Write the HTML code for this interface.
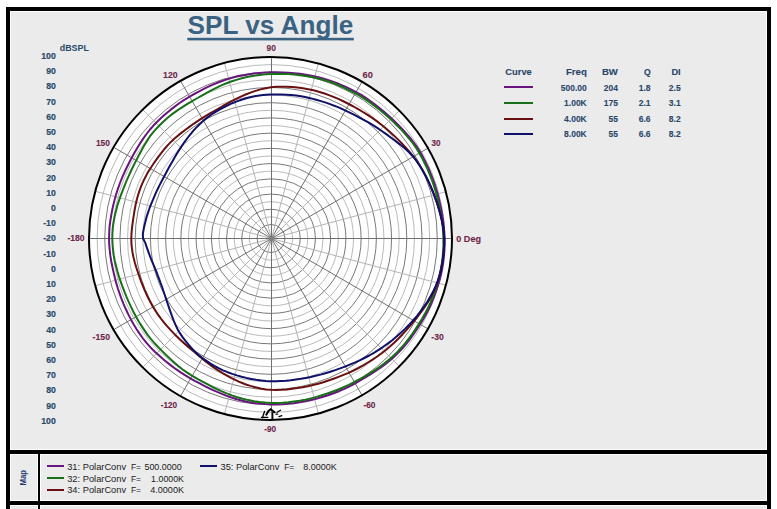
<!DOCTYPE html>
<html><head><meta charset="utf-8"><style>
html,body{margin:0;padding:0;background:#fff;overflow:hidden;}
svg{display:block;font-family:"Liberation Sans",sans-serif;}
</style></head><body>
<svg width="777" height="509" viewBox="0 0 777 509">
<rect x="0" y="0" width="777" height="509" fill="#ffffff"/>
<rect x="6" y="7" width="765" height="510" fill="#000"/>
<rect x="10" y="11" width="757" height="439" fill="#ffffff"/>
<rect x="11" y="12" width="755" height="437" fill="#ebebeb"/>
<rect x="10" y="454" width="28" height="47" fill="#ffffff"/>
<rect x="11" y="455" width="26" height="45" fill="#ebebeb"/>
<rect x="40" y="454" width="727" height="47" fill="#ffffff"/>
<rect x="41" y="455" width="725" height="45" fill="#ebebeb"/>
<rect x="10" y="505" width="28" height="10" fill="#ffffff"/>
<rect x="11" y="506" width="26" height="10" fill="#ebebeb"/>
<rect x="40" y="505" width="727" height="10" fill="#ffffff"/>
<rect x="41" y="506" width="725" height="10" fill="#ebebeb"/>
<text transform="translate(187.60 34.35) scale(1.0427 1)" font-family="Liberation Sans" font-weight="bold" font-size="25.07" fill="#3a6383" xml:space="preserve">SPL vs Angle</text>
<rect x="187.3" y="37.8" width="166.5" height="2.6" fill="#3a6383"/>
<text transform="translate(59.80 51.12) scale(1.0860 1)" font-family="Liberation Sans" font-weight="bold" font-size="8.17" fill="#2a4a6c" xml:space="preserve">dBSPL</text>
<text transform="translate(41.25 59.03) scale(0.8800 1)" font-family="Liberation Sans" font-weight="bold" font-size="9.90" fill="#2a4a6c" stroke="#2a4a6c" stroke-width="0.20" xml:space="preserve">100</text>
<text transform="translate(46.13 74.23) scale(0.8800 1)" font-family="Liberation Sans" font-weight="bold" font-size="9.90" fill="#2a4a6c" stroke="#2a4a6c" stroke-width="0.20" xml:space="preserve">90</text>
<text transform="translate(46.13 89.43) scale(0.8800 1)" font-family="Liberation Sans" font-weight="bold" font-size="9.90" fill="#2a4a6c" stroke="#2a4a6c" stroke-width="0.20" xml:space="preserve">80</text>
<text transform="translate(46.13 104.63) scale(0.8800 1)" font-family="Liberation Sans" font-weight="bold" font-size="9.90" fill="#2a4a6c" stroke="#2a4a6c" stroke-width="0.20" xml:space="preserve">70</text>
<text transform="translate(46.13 119.83) scale(0.8800 1)" font-family="Liberation Sans" font-weight="bold" font-size="9.90" fill="#2a4a6c" stroke="#2a4a6c" stroke-width="0.20" xml:space="preserve">60</text>
<text transform="translate(46.13 135.03) scale(0.8800 1)" font-family="Liberation Sans" font-weight="bold" font-size="9.90" fill="#2a4a6c" stroke="#2a4a6c" stroke-width="0.20" xml:space="preserve">50</text>
<text transform="translate(46.13 150.23) scale(0.8800 1)" font-family="Liberation Sans" font-weight="bold" font-size="9.90" fill="#2a4a6c" stroke="#2a4a6c" stroke-width="0.20" xml:space="preserve">40</text>
<text transform="translate(46.13 165.43) scale(0.8800 1)" font-family="Liberation Sans" font-weight="bold" font-size="9.90" fill="#2a4a6c" stroke="#2a4a6c" stroke-width="0.20" xml:space="preserve">30</text>
<text transform="translate(46.13 180.63) scale(0.8800 1)" font-family="Liberation Sans" font-weight="bold" font-size="9.90" fill="#2a4a6c" stroke="#2a4a6c" stroke-width="0.20" xml:space="preserve">20</text>
<text transform="translate(46.13 195.83) scale(0.8800 1)" font-family="Liberation Sans" font-weight="bold" font-size="9.90" fill="#2a4a6c" stroke="#2a4a6c" stroke-width="0.20" xml:space="preserve">10</text>
<text transform="translate(50.96 211.03) scale(0.8800 1)" font-family="Liberation Sans" font-weight="bold" font-size="9.90" fill="#2a4a6c" stroke="#2a4a6c" stroke-width="0.20" xml:space="preserve">0</text>
<text transform="translate(43.21 226.23) scale(0.8800 1)" font-family="Liberation Sans" font-weight="bold" font-size="9.90" fill="#2a4a6c" stroke="#2a4a6c" stroke-width="0.20" xml:space="preserve">-10</text>
<text transform="translate(43.21 241.43) scale(0.8800 1)" font-family="Liberation Sans" font-weight="bold" font-size="9.90" fill="#2a4a6c" stroke="#2a4a6c" stroke-width="0.20" xml:space="preserve">-20</text>
<text transform="translate(43.21 256.63) scale(0.8800 1)" font-family="Liberation Sans" font-weight="bold" font-size="9.90" fill="#2a4a6c" stroke="#2a4a6c" stroke-width="0.20" xml:space="preserve">-10</text>
<text transform="translate(50.96 271.83) scale(0.8800 1)" font-family="Liberation Sans" font-weight="bold" font-size="9.90" fill="#2a4a6c" stroke="#2a4a6c" stroke-width="0.20" xml:space="preserve">0</text>
<text transform="translate(46.13 287.03) scale(0.8800 1)" font-family="Liberation Sans" font-weight="bold" font-size="9.90" fill="#2a4a6c" stroke="#2a4a6c" stroke-width="0.20" xml:space="preserve">10</text>
<text transform="translate(46.13 302.23) scale(0.8800 1)" font-family="Liberation Sans" font-weight="bold" font-size="9.90" fill="#2a4a6c" stroke="#2a4a6c" stroke-width="0.20" xml:space="preserve">20</text>
<text transform="translate(46.13 317.43) scale(0.8800 1)" font-family="Liberation Sans" font-weight="bold" font-size="9.90" fill="#2a4a6c" stroke="#2a4a6c" stroke-width="0.20" xml:space="preserve">30</text>
<text transform="translate(46.13 332.63) scale(0.8800 1)" font-family="Liberation Sans" font-weight="bold" font-size="9.90" fill="#2a4a6c" stroke="#2a4a6c" stroke-width="0.20" xml:space="preserve">40</text>
<text transform="translate(46.13 347.83) scale(0.8800 1)" font-family="Liberation Sans" font-weight="bold" font-size="9.90" fill="#2a4a6c" stroke="#2a4a6c" stroke-width="0.20" xml:space="preserve">50</text>
<text transform="translate(46.13 363.03) scale(0.8800 1)" font-family="Liberation Sans" font-weight="bold" font-size="9.90" fill="#2a4a6c" stroke="#2a4a6c" stroke-width="0.20" xml:space="preserve">60</text>
<text transform="translate(46.13 378.23) scale(0.8800 1)" font-family="Liberation Sans" font-weight="bold" font-size="9.90" fill="#2a4a6c" stroke="#2a4a6c" stroke-width="0.20" xml:space="preserve">70</text>
<text transform="translate(46.13 393.43) scale(0.8800 1)" font-family="Liberation Sans" font-weight="bold" font-size="9.90" fill="#2a4a6c" stroke="#2a4a6c" stroke-width="0.20" xml:space="preserve">80</text>
<text transform="translate(46.13 408.63) scale(0.8800 1)" font-family="Liberation Sans" font-weight="bold" font-size="9.90" fill="#2a4a6c" stroke="#2a4a6c" stroke-width="0.20" xml:space="preserve">90</text>
<text transform="translate(41.25 423.83) scale(0.8800 1)" font-family="Liberation Sans" font-weight="bold" font-size="9.90" fill="#2a4a6c" stroke="#2a4a6c" stroke-width="0.20" xml:space="preserve">100</text>
<circle cx="270.5" cy="238.5" r="181.5" fill="#ffffff"/>
<circle cx="271.00" cy="238.50" r="14.00" fill="none" stroke="#787878" stroke-width="1"/>
<circle cx="271.00" cy="238.50" r="21.61" fill="none" stroke="#bababa" stroke-width="1"/>
<circle cx="271.00" cy="238.50" r="29.23" fill="none" stroke="#787878" stroke-width="1"/>
<circle cx="271.00" cy="238.50" r="36.84" fill="none" stroke="#bababa" stroke-width="1"/>
<circle cx="271.00" cy="238.50" r="44.45" fill="none" stroke="#787878" stroke-width="1"/>
<circle cx="271.00" cy="238.50" r="52.07" fill="none" stroke="#bababa" stroke-width="1"/>
<circle cx="271.00" cy="238.50" r="59.68" fill="none" stroke="#787878" stroke-width="1"/>
<circle cx="271.00" cy="238.50" r="67.30" fill="none" stroke="#bababa" stroke-width="1"/>
<circle cx="271.00" cy="238.50" r="74.91" fill="none" stroke="#787878" stroke-width="1"/>
<circle cx="271.00" cy="238.50" r="82.52" fill="none" stroke="#bababa" stroke-width="1"/>
<circle cx="271.00" cy="238.50" r="90.14" fill="none" stroke="#787878" stroke-width="1"/>
<circle cx="271.00" cy="238.50" r="97.75" fill="none" stroke="#bababa" stroke-width="1"/>
<circle cx="271.00" cy="238.50" r="105.37" fill="none" stroke="#787878" stroke-width="1"/>
<circle cx="271.00" cy="238.50" r="112.98" fill="none" stroke="#bababa" stroke-width="1"/>
<circle cx="271.00" cy="238.50" r="120.59" fill="none" stroke="#787878" stroke-width="1"/>
<circle cx="271.00" cy="238.50" r="128.21" fill="none" stroke="#bababa" stroke-width="1"/>
<circle cx="271.00" cy="238.50" r="135.82" fill="none" stroke="#787878" stroke-width="1"/>
<circle cx="271.00" cy="238.50" r="143.44" fill="none" stroke="#bababa" stroke-width="1"/>
<circle cx="271.00" cy="238.50" r="151.05" fill="none" stroke="#787878" stroke-width="1"/>
<circle cx="271.00" cy="238.50" r="158.66" fill="none" stroke="#bababa" stroke-width="1"/>
<circle cx="271.00" cy="238.50" r="166.28" fill="none" stroke="#787878" stroke-width="1"/>
<circle cx="271.00" cy="238.50" r="173.89" fill="none" stroke="#bababa" stroke-width="1"/>
<line x1="271.50" y1="238.50" x2="446.82" y2="191.52" stroke="#b4b4b4" stroke-width="1"/>
<line x1="271.50" y1="238.50" x2="399.84" y2="110.16" stroke="#b4b4b4" stroke-width="1"/>
<line x1="271.50" y1="238.50" x2="318.48" y2="63.18" stroke="#b4b4b4" stroke-width="1"/>
<line x1="271.50" y1="238.50" x2="224.52" y2="63.18" stroke="#b4b4b4" stroke-width="1"/>
<line x1="271.50" y1="238.50" x2="143.16" y2="110.16" stroke="#b4b4b4" stroke-width="1"/>
<line x1="271.50" y1="238.50" x2="96.18" y2="191.52" stroke="#b4b4b4" stroke-width="1"/>
<line x1="271.50" y1="238.50" x2="96.18" y2="285.48" stroke="#b4b4b4" stroke-width="1"/>
<line x1="271.50" y1="238.50" x2="143.16" y2="366.84" stroke="#b4b4b4" stroke-width="1"/>
<line x1="271.50" y1="238.50" x2="224.52" y2="413.82" stroke="#b4b4b4" stroke-width="1"/>
<line x1="271.50" y1="238.50" x2="318.48" y2="413.82" stroke="#b4b4b4" stroke-width="1"/>
<line x1="271.50" y1="238.50" x2="399.84" y2="366.84" stroke="#b4b4b4" stroke-width="1"/>
<line x1="271.50" y1="238.50" x2="446.82" y2="285.48" stroke="#b4b4b4" stroke-width="1"/>
<line x1="271.50" y1="238.50" x2="453.00" y2="238.50" stroke="#707070" stroke-width="1" shape-rendering="crispEdges"/>
<line x1="271.50" y1="238.50" x2="428.68" y2="147.75" stroke="#707070" stroke-width="1"/>
<line x1="271.50" y1="238.50" x2="362.25" y2="81.32" stroke="#707070" stroke-width="1"/>
<line x1="271.50" y1="238.50" x2="271.50" y2="57.00" stroke="#707070" stroke-width="1" shape-rendering="crispEdges"/>
<line x1="271.50" y1="238.50" x2="180.75" y2="81.32" stroke="#707070" stroke-width="1"/>
<line x1="271.50" y1="238.50" x2="114.32" y2="147.75" stroke="#707070" stroke-width="1"/>
<line x1="271.50" y1="238.50" x2="90.00" y2="238.50" stroke="#707070" stroke-width="1" shape-rendering="crispEdges"/>
<line x1="271.50" y1="238.50" x2="114.32" y2="329.25" stroke="#707070" stroke-width="1"/>
<line x1="271.50" y1="238.50" x2="180.75" y2="395.68" stroke="#707070" stroke-width="1"/>
<line x1="271.50" y1="238.50" x2="271.50" y2="420.00" stroke="#707070" stroke-width="1" shape-rendering="crispEdges"/>
<line x1="271.50" y1="238.50" x2="362.25" y2="395.68" stroke="#707070" stroke-width="1"/>
<line x1="271.50" y1="238.50" x2="428.68" y2="329.25" stroke="#707070" stroke-width="1"/>
<circle cx="271.5" cy="238.5" r="2.5" fill="#808080"/>
<circle cx="270.5" cy="238.5" r="181.5" fill="none" stroke="#000" stroke-width="2"/>
<path d="M444.6 238.5 L444.3 232.4 L443.8 226.4 L443.1 220.4 L442.2 214.4 L441.1 208.5 L439.8 202.6 L438.4 196.8 L436.8 191.0 L435.0 185.2 L433.0 179.5 L430.8 173.9 L428.5 168.4 L425.9 163.0 L423.2 157.6 L420.3 152.3 L417.1 147.2 L413.6 142.3 L409.9 137.6 L405.9 133.1 L401.9 128.7 L397.7 124.4 L393.5 120.2 L389.1 116.2 L384.6 112.3 L380.1 108.5 L375.4 104.8 L370.7 101.3 L365.8 97.9 L360.8 94.7 L355.7 91.8 L350.4 89.2 L345.1 86.6 L339.7 84.3 L334.2 82.1 L328.6 80.2 L323.0 78.5 L317.3 77.0 L311.6 75.7 L305.8 74.7 L300.0 73.8 L294.2 73.2 L288.4 72.7 L282.6 72.4 L276.8 72.2 L271.0 72.3 L265.2 72.5 L259.4 72.9 L253.7 73.5 L247.9 74.4 L242.2 75.4 L236.6 76.6 L231.0 78.1 L225.5 79.8 L220.1 81.7 L214.7 83.9 L209.5 86.2 L204.3 88.7 L199.2 91.3 L194.2 94.0 L189.2 96.8 L184.3 99.8 L179.6 103.0 L175.0 106.4 L170.5 109.9 L166.1 113.5 L161.8 117.2 L157.7 121.2 L153.7 125.3 L150.0 129.5 L146.5 134.0 L143.2 138.6 L140.1 143.4 L137.1 148.2 L134.3 153.1 L131.6 158.0 L129.0 163.0 L126.5 168.0 L124.1 173.1 L121.9 178.2 L119.8 183.5 L117.9 188.8 L116.2 194.1 L114.7 199.5 L113.3 205.0 L112.1 210.5 L111.1 216.0 L110.2 221.6 L109.5 227.2 L109.2 232.8 L109.1 238.5 L109.2 244.1 L109.7 249.8 L110.3 255.4 L111.2 261.0 L112.3 266.5 L113.5 272.0 L114.8 277.4 L116.2 282.9 L117.8 288.3 L119.6 293.6 L121.5 298.9 L123.6 304.1 L125.9 309.3 L128.3 314.4 L130.9 319.4 L133.6 324.3 L136.6 329.2 L139.7 333.9 L143.0 338.5 L146.5 342.9 L150.3 347.2 L154.3 351.2 L158.5 355.0 L162.7 358.7 L167.1 362.4 L171.5 365.9 L176.0 369.2 L180.7 372.4 L185.4 375.4 L190.3 378.3 L195.2 381.1 L200.2 383.7 L205.2 386.3 L210.3 388.8 L215.4 391.2 L220.7 393.4 L226.0 395.6 L231.4 397.5 L236.8 399.2 L242.4 400.7 L248.0 401.9 L253.7 402.9 L259.5 403.6 L265.2 404.1 L271.0 404.4 L276.8 404.4 L282.6 404.2 L288.4 403.8 L294.1 403.2 L299.9 402.3 L305.6 401.3 L311.3 400.1 L316.9 398.6 L322.5 397.0 L328.1 395.3 L333.6 393.3 L339.0 391.2 L344.4 388.9 L349.6 386.3 L354.8 383.6 L359.8 380.7 L364.9 377.7 L369.9 374.7 L374.9 371.5 L379.8 368.2 L384.6 364.7 L389.3 361.0 L393.8 357.1 L398.1 352.9 L402.2 348.5 L406.0 344.0 L409.8 339.3 L413.3 334.5 L416.7 329.5 L420.0 324.5 L423.1 319.4 L426.1 314.2 L428.9 308.8 L431.4 303.3 L433.7 297.7 L435.8 292.0 L437.7 286.3 L439.5 280.5 L441.0 274.6 L442.2 268.7 L443.2 262.7 L443.9 256.7 L444.4 250.6 L444.6 244.6 Z" fill="none" stroke="#6a1480" stroke-width="2.0" stroke-linejoin="round"/>
<path d="M443.4 238.5 L443.1 232.5 L442.7 226.5 L441.9 220.5 L441.0 214.6 L439.9 208.7 L438.7 202.9 L437.2 197.1 L435.6 191.3 L433.9 185.6 L431.9 179.9 L429.7 174.4 L427.4 168.9 L424.8 163.5 L422.1 158.1 L419.2 152.9 L416.1 147.8 L412.6 143.0 L408.9 138.3 L405.0 133.8 L401.0 129.4 L396.8 125.2 L392.6 121.1 L388.3 117.1 L383.8 113.2 L379.3 109.5 L374.6 105.9 L369.9 102.4 L365.0 99.1 L360.0 96.0 L354.9 93.1 L349.7 90.5 L344.5 87.9 L339.1 85.5 L333.7 83.3 L328.2 81.4 L322.6 79.7 L317.0 78.2 L311.3 77.0 L305.5 76.0 L299.8 75.2 L294.0 74.6 L288.3 74.1 L282.5 73.9 L276.8 73.8 L271.0 73.9 L265.3 74.3 L259.6 74.9 L253.9 75.7 L248.3 76.8 L242.7 78.0 L237.2 79.6 L231.8 81.3 L226.5 83.3 L221.3 85.4 L216.2 87.8 L211.2 90.4 L206.2 93.1 L201.4 95.8 L196.6 98.5 L191.8 101.3 L187.0 104.1 L182.4 107.1 L177.7 110.1 L173.2 113.4 L168.8 116.7 L164.6 120.4 L160.6 124.2 L156.8 128.2 L153.1 132.3 L149.7 136.7 L146.7 141.4 L143.9 146.1 L141.2 151.0 L138.6 155.8 L136.1 160.6 L133.6 165.5 L131.3 170.3 L129.0 175.3 L126.8 180.2 L124.7 185.3 L122.7 190.3 L120.8 195.4 L119.0 200.6 L117.3 205.8 L115.9 211.2 L114.6 216.5 L113.6 222.0 L112.8 227.4 L112.4 233.0 L112.3 238.5 L112.5 244.0 L113.0 249.6 L113.7 255.0 L114.7 260.5 L116.0 265.8 L117.4 271.2 L118.9 276.4 L120.7 281.6 L122.5 286.7 L124.5 291.8 L126.5 296.9 L128.7 301.9 L131.0 306.8 L133.4 311.7 L135.9 316.5 L138.6 321.2 L141.5 325.9 L144.5 330.4 L147.6 334.9 L151.0 339.2 L154.6 343.3 L158.4 347.3 L162.2 351.1 L166.1 355.0 L170.1 358.8 L174.2 362.5 L178.3 366.0 L182.7 369.5 L187.2 372.6 L191.9 375.6 L196.6 378.4 L201.5 381.1 L206.3 383.7 L211.3 386.3 L216.3 388.8 L221.4 391.2 L226.6 393.4 L231.9 395.4 L237.3 397.2 L242.7 398.8 L248.3 400.1 L253.9 401.2 L259.6 402.0 L265.3 402.6 L271.0 402.9 L276.7 402.9 L282.5 402.7 L288.2 402.3 L293.9 401.6 L299.6 400.8 L305.3 399.7 L310.9 398.4 L316.4 396.9 L321.9 395.2 L327.4 393.4 L332.8 391.5 L338.2 389.5 L343.5 387.2 L348.8 384.8 L354.0 382.2 L359.1 379.5 L364.2 376.6 L369.2 373.7 L374.2 370.6 L379.1 367.3 L383.8 363.8 L388.5 360.1 L392.9 356.2 L397.2 352.1 L401.2 347.8 L405.1 343.3 L408.8 338.6 L412.3 333.8 L415.7 328.9 L418.9 323.9 L422.1 318.8 L425.0 313.6 L427.8 308.3 L430.3 302.8 L432.5 297.3 L434.7 291.7 L436.6 286.0 L438.3 280.2 L439.8 274.4 L441.0 268.5 L442.0 262.5 L442.7 256.5 L443.2 250.5 L443.4 244.5 Z" fill="none" stroke="#187018" stroke-width="2.0" stroke-linejoin="round"/>
<path d="M444.2 238.5 L443.9 232.5 L443.1 226.5 L441.9 220.5 L440.4 214.7 L438.8 208.9 L437.1 203.2 L435.1 197.6 L433.0 192.0 L430.7 186.6 L428.3 181.2 L425.7 176.0 L423.0 170.8 L420.0 165.8 L416.8 161.0 L413.3 156.4 L409.6 151.9 L405.8 147.6 L401.9 143.4 L397.9 139.4 L393.8 135.4 L389.7 131.7 L385.4 128.0 L381.1 124.5 L376.7 121.1 L372.2 117.9 L367.6 114.9 L362.9 112.0 L358.2 109.2 L353.5 106.5 L348.7 104.0 L343.8 101.5 L338.9 99.2 L334.0 97.1 L328.9 95.1 L323.8 93.3 L318.7 91.7 L313.5 90.3 L308.2 89.2 L302.9 88.3 L297.6 87.6 L292.3 87.1 L286.9 86.8 L281.6 86.7 L276.3 86.8 L271.0 87.3 L265.8 88.2 L260.6 89.4 L255.5 90.9 L250.5 92.6 L245.6 94.5 L240.8 96.6 L236.2 98.8 L231.6 101.1 L227.2 103.6 L222.8 106.0 L218.5 108.5 L214.2 111.0 L210.0 113.4 L205.8 115.9 L201.7 118.4 L197.6 121.1 L193.6 123.8 L189.7 126.6 L185.8 129.5 L182.0 132.4 L178.2 135.4 L174.5 138.6 L170.9 141.9 L167.6 145.4 L164.4 149.0 L161.4 152.9 L158.5 156.7 L155.6 160.7 L152.8 164.7 L150.2 168.7 L147.6 172.9 L145.3 177.2 L143.1 181.6 L141.2 186.1 L139.5 190.6 L138.0 195.3 L136.7 200.0 L135.6 204.7 L134.7 209.5 L133.9 214.3 L133.2 219.1 L132.5 223.9 L131.9 228.8 L131.5 233.6 L131.3 238.5 L131.4 243.4 L131.9 248.2 L132.6 253.0 L133.6 257.8 L134.8 262.5 L136.2 267.2 L137.7 271.7 L139.3 276.3 L140.9 280.8 L142.6 285.2 L144.4 289.6 L146.4 294.0 L148.4 298.3 L150.6 302.5 L152.9 306.7 L155.4 310.8 L158.0 314.7 L160.8 318.5 L163.8 322.3 L166.8 325.9 L170.0 329.4 L173.3 332.9 L176.6 336.2 L180.0 339.5 L183.5 342.7 L187.1 345.9 L190.7 349.0 L194.4 352.1 L198.1 355.2 L201.8 358.3 L205.6 361.4 L209.6 364.5 L213.6 367.4 L217.8 370.2 L222.1 372.9 L226.5 375.4 L231.0 377.9 L235.7 380.1 L240.4 382.3 L245.3 384.2 L250.3 385.9 L255.4 387.3 L260.5 388.5 L265.7 389.4 L271.0 389.8 L276.3 389.9 L281.6 389.8 L286.9 389.4 L292.1 388.8 L297.4 388.1 L302.6 387.2 L307.8 386.2 L313.0 385.0 L318.2 383.7 L323.3 382.2 L328.4 380.5 L333.5 378.8 L338.5 376.9 L343.5 374.9 L348.6 372.8 L353.5 370.5 L358.4 368.0 L363.2 365.4 L367.9 362.5 L372.6 359.6 L377.2 356.5 L381.7 353.2 L386.2 349.7 L390.5 346.1 L394.7 342.3 L398.8 338.3 L402.7 334.2 L406.6 329.9 L410.3 325.6 L414.0 321.1 L417.7 316.5 L421.2 311.8 L424.7 306.9 L428.0 301.9 L431.0 296.7 L433.8 291.4 L436.2 285.9 L438.3 280.2 L440.0 274.4 L441.3 268.5 L442.4 262.6 L443.2 256.6 L443.8 250.6 L444.2 244.5 Z" fill="none" stroke="#6a1010" stroke-width="2.0" stroke-linejoin="round"/>
<path d="M444.2 238.5 L443.9 232.5 L443.1 226.5 L441.9 220.5 L440.5 214.7 L438.9 208.9 L437.1 203.2 L435.1 197.6 L433.0 192.0 L430.8 186.6 L428.3 181.2 L425.7 176.0 L422.9 170.9 L419.9 165.9 L416.6 161.1 L413.0 156.5 L409.0 152.3 L404.7 148.3 L400.2 144.6 L395.7 141.1 L391.1 137.7 L386.6 134.4 L382.1 131.2 L377.6 128.1 L373.0 125.2 L368.4 122.4 L363.7 119.8 L359.0 117.3 L354.4 114.9 L349.7 112.6 L345.0 110.4 L340.3 108.2 L335.5 106.2 L330.7 104.4 L325.9 102.6 L321.0 101.1 L316.1 99.7 L311.2 98.4 L306.2 97.3 L301.2 96.3 L296.2 95.6 L291.2 95.1 L286.1 94.7 L281.1 94.5 L276.0 94.4 L271.0 94.5 L266.0 94.8 L261.0 95.3 L256.0 96.0 L251.1 97.0 L246.3 98.2 L241.5 99.7 L236.8 101.4 L232.2 103.2 L227.7 105.3 L223.3 107.5 L219.0 109.8 L214.8 112.3 L210.8 115.0 L206.9 117.9 L203.1 120.9 L199.6 124.2 L196.2 127.6 L193.0 131.2 L190.0 134.8 L187.1 138.5 L184.3 142.3 L181.7 146.1 L179.2 149.9 L176.8 153.7 L174.6 157.6 L172.4 161.4 L170.2 165.3 L168.1 169.1 L166.0 172.9 L164.0 176.7 L162.0 180.5 L160.0 184.4 L158.1 188.2 L156.2 192.1 L154.5 196.1 L152.8 200.1 L151.1 204.1 L149.5 208.2 L148.1 212.4 L146.7 216.6 L145.6 220.9 L144.5 225.2 L143.6 229.6 L142.8 234.0 L143.1 238.5 L145.3 242.9 L146.7 247.2 L148.2 251.4 L149.7 255.5 L151.3 259.6 L153.0 263.6 L154.6 267.5 L156.2 271.4 L157.7 275.3 L159.2 279.2 L160.6 283.1 L162.1 287.0 L163.4 291.0 L164.8 295.0 L166.1 299.1 L167.5 303.2 L168.9 307.4 L170.4 311.6 L171.9 315.9 L173.6 320.3 L175.4 324.6 L177.4 328.9 L179.8 332.9 L182.4 336.9 L185.3 340.7 L188.3 344.4 L191.4 348.0 L194.8 351.5 L198.4 354.7 L202.1 357.8 L206.1 360.6 L210.1 363.3 L214.3 365.8 L218.6 368.1 L223.0 370.3 L227.6 372.2 L232.2 373.9 L236.9 375.4 L241.6 376.7 L246.4 377.9 L251.3 378.9 L256.2 379.8 L261.1 380.4 L266.0 380.9 L271.0 381.2 L276.0 381.2 L281.0 381.0 L285.9 380.7 L290.9 380.2 L295.9 379.5 L300.8 378.8 L305.8 377.9 L310.7 377.0 L315.6 375.8 L320.5 374.6 L325.4 373.2 L330.3 371.7 L335.2 370.1 L340.1 368.4 L344.9 366.6 L349.8 364.6 L354.7 362.6 L359.6 360.4 L364.4 358.0 L369.2 355.5 L373.9 352.8 L378.6 349.9 L383.2 346.8 L387.7 343.6 L392.2 340.2 L396.6 336.6 L400.9 332.8 L405.0 328.9 L409.1 324.8 L413.0 320.5 L416.9 316.1 L420.5 311.4 L424.0 306.6 L427.3 301.7 L430.4 296.5 L433.3 291.2 L435.8 285.8 L438.0 280.1 L439.8 274.4 L441.3 268.5 L442.4 262.6 L443.2 256.6 L443.8 250.6 L444.2 244.5 Z" fill="none" stroke="#10106a" stroke-width="2.0" stroke-linejoin="round"/>
<g fill="none" stroke="#000" stroke-width="1.3" stroke-linecap="round"><path d="M262.4 417.7 L264.6 411.3"/><path d="M261.4 417.4 L267.8 417.4"/><path d="M266.3 414.7 L268.5 411 L270.7 409.3 L274.6 412.3" stroke-width="2"/><path d="M272.7 412.3 L272.7 418.7"/><path d="M277.1 412.3 L280.5 410.3"/><path d="M276.1 414.2 L277.6 414.2"/><path d="M279 416.7 L281.8 415.7"/></g>
<text transform="translate(266.60 50.50) scale(0.8748 1)" font-family="Liberation Sans" font-weight="bold" font-size="9.58" fill="#6e2448" stroke="#6e2448" stroke-width="0.10" xml:space="preserve">90</text>
<text transform="translate(163.10 77.61) scale(0.9328 1)" font-family="Liberation Sans" font-weight="bold" font-size="9.44" fill="#6e2448" stroke="#6e2448" stroke-width="0.10" xml:space="preserve">120</text>
<text transform="translate(362.60 77.60) scale(0.9689 1)" font-family="Liberation Sans" font-weight="bold" font-size="9.58" fill="#6e2448" stroke="#6e2448" stroke-width="0.10" xml:space="preserve">60</text>
<text transform="translate(95.90 145.60) scale(0.8688 1)" font-family="Liberation Sans" font-weight="bold" font-size="9.72" fill="#6e2448" stroke="#6e2448" stroke-width="0.10" xml:space="preserve">150</text>
<text transform="translate(431.50 145.71) scale(0.8819 1)" font-family="Liberation Sans" font-weight="bold" font-size="9.30" fill="#6e2448" stroke="#6e2448" stroke-width="0.10" xml:space="preserve">30</text>
<text transform="translate(67.40 241.41) scale(0.9541 1)" font-family="Liberation Sans" font-weight="bold" font-size="9.01" fill="#6e2448" stroke="#6e2448" stroke-width="0.10" xml:space="preserve">-180</text>
<text transform="translate(92.60 339.61) scale(0.9219 1)" font-family="Liberation Sans" font-weight="bold" font-size="9.44" fill="#6e2448" stroke="#6e2448" stroke-width="0.10" xml:space="preserve">-150</text>
<text transform="translate(431.30 339.61) scale(0.9094 1)" font-family="Liberation Sans" font-weight="bold" font-size="9.44" fill="#6e2448" stroke="#6e2448" stroke-width="0.10" xml:space="preserve">-30</text>
<text transform="translate(160.70 407.90) scale(0.8614 1)" font-family="Liberation Sans" font-weight="bold" font-size="9.58" fill="#6e2448" stroke="#6e2448" stroke-width="0.10" xml:space="preserve">-120</text>
<text transform="translate(363.40 407.90) scale(0.8743 1)" font-family="Liberation Sans" font-weight="bold" font-size="9.58" fill="#6e2448" stroke="#6e2448" stroke-width="0.10" xml:space="preserve">-60</text>
<text transform="translate(264.30 432.41) scale(0.9585 1)" font-family="Liberation Sans" font-weight="bold" font-size="8.59" fill="#6e2448" stroke="#6e2448" stroke-width="0.10" xml:space="preserve">-90</text>
<text transform="translate(456.30 241.51) scale(0.9751 1)" font-family="Liberation Sans" font-weight="bold" font-size="9.30" fill="#6e2448" stroke="#6e2448" stroke-width="0.10" xml:space="preserve">0 Deg</text>
<text transform="translate(505.30 74.71) scale(1.0056 1)" font-family="Liberation Sans" font-weight="bold" font-size="9.30" fill="#28466a" stroke="#28466a" stroke-width="0.10" xml:space="preserve">Curve</text>
<text transform="translate(565.90 74.80) scale(1.0092 1)" font-family="Liberation Sans" font-weight="bold" font-size="9.57" fill="#28466a" stroke="#28466a" stroke-width="0.10" xml:space="preserve">Freq</text>
<text transform="translate(601.90 74.80) scale(1.0046 1)" font-family="Liberation Sans" font-weight="bold" font-size="9.57" fill="#28466a" stroke="#28466a" stroke-width="0.10" xml:space="preserve">BW</text>
<text transform="translate(643.90 74.71) scale(0.9240 1)" font-family="Liberation Sans" font-weight="bold" font-size="9.30" fill="#28466a" stroke="#28466a" stroke-width="0.10" xml:space="preserve">Q</text>
<text transform="translate(671.40 74.80) scale(0.9723 1)" font-family="Liberation Sans" font-weight="bold" font-size="9.57" fill="#28466a" stroke="#28466a" stroke-width="0.10" xml:space="preserve">DI</text>
<rect x="504" y="86.0" width="29" height="2" fill="#6a1480"/>
<text transform="translate(560.75 90.53) scale(0.8600 1)" font-family="Liberation Sans" font-weight="bold" font-size="9.90" fill="#28466a" stroke="#28466a" stroke-width="0.10" xml:space="preserve">500.00</text>
<text transform="translate(603.68 90.53) scale(0.8600 1)" font-family="Liberation Sans" font-weight="bold" font-size="9.90" fill="#28466a" stroke="#28466a" stroke-width="0.10" xml:space="preserve">204</text>
<text transform="translate(638.77 90.53) scale(0.8600 1)" font-family="Liberation Sans" font-weight="bold" font-size="9.90" fill="#28466a" stroke="#28466a" stroke-width="0.10" xml:space="preserve">1.8</text>
<text transform="translate(668.87 90.53) scale(0.8600 1)" font-family="Liberation Sans" font-weight="bold" font-size="9.90" fill="#28466a" stroke="#28466a" stroke-width="0.10" xml:space="preserve">2.5</text>
<rect x="504" y="102.0" width="29" height="2" fill="#187018"/>
<text transform="translate(564.07 106.13) scale(0.8600 1)" font-family="Liberation Sans" font-weight="bold" font-size="9.90" fill="#28466a" stroke="#28466a" stroke-width="0.10" xml:space="preserve">1.00K</text>
<text transform="translate(603.68 106.13) scale(0.8600 1)" font-family="Liberation Sans" font-weight="bold" font-size="9.90" fill="#28466a" stroke="#28466a" stroke-width="0.10" xml:space="preserve">175</text>
<text transform="translate(638.77 106.13) scale(0.8600 1)" font-family="Liberation Sans" font-weight="bold" font-size="9.90" fill="#28466a" stroke="#28466a" stroke-width="0.10" xml:space="preserve">2.1</text>
<text transform="translate(668.87 106.13) scale(0.8600 1)" font-family="Liberation Sans" font-weight="bold" font-size="9.90" fill="#28466a" stroke="#28466a" stroke-width="0.10" xml:space="preserve">3.1</text>
<rect x="504" y="118.0" width="29" height="2" fill="#6a1010"/>
<text transform="translate(564.07 121.73) scale(0.8600 1)" font-family="Liberation Sans" font-weight="bold" font-size="9.90" fill="#28466a" stroke="#28466a" stroke-width="0.10" xml:space="preserve">4.00K</text>
<text transform="translate(608.45 121.73) scale(0.8600 1)" font-family="Liberation Sans" font-weight="bold" font-size="9.90" fill="#28466a" stroke="#28466a" stroke-width="0.10" xml:space="preserve">55</text>
<text transform="translate(638.77 121.73) scale(0.8600 1)" font-family="Liberation Sans" font-weight="bold" font-size="9.90" fill="#28466a" stroke="#28466a" stroke-width="0.10" xml:space="preserve">6.6</text>
<text transform="translate(668.87 121.73) scale(0.8600 1)" font-family="Liberation Sans" font-weight="bold" font-size="9.90" fill="#28466a" stroke="#28466a" stroke-width="0.10" xml:space="preserve">8.2</text>
<rect x="504" y="133.0" width="29" height="2" fill="#10106a"/>
<text transform="translate(564.07 137.33) scale(0.8600 1)" font-family="Liberation Sans" font-weight="bold" font-size="9.90" fill="#28466a" stroke="#28466a" stroke-width="0.10" xml:space="preserve">8.00K</text>
<text transform="translate(608.45 137.33) scale(0.8600 1)" font-family="Liberation Sans" font-weight="bold" font-size="9.90" fill="#28466a" stroke="#28466a" stroke-width="0.10" xml:space="preserve">55</text>
<text transform="translate(638.77 137.33) scale(0.8600 1)" font-family="Liberation Sans" font-weight="bold" font-size="9.90" fill="#28466a" stroke="#28466a" stroke-width="0.10" xml:space="preserve">6.6</text>
<text transform="translate(668.87 137.33) scale(0.8600 1)" font-family="Liberation Sans" font-weight="bold" font-size="9.90" fill="#28466a" stroke="#28466a" stroke-width="0.10" xml:space="preserve">8.2</text>
<text transform="translate(25.80 485.60) rotate(-90) scale(0.8207 1)" font-family="Liberation Sans" font-weight="bold" font-size="9.57" fill="#1a3a70">Map</text>
<rect x="47" y="465" width="17" height="2" fill="#6a1480"/>
<text transform="translate(67.20 470.40) scale(0.9434 1)" font-family="Liberation Sans" font-weight="normal" font-size="9.86" fill="#1a1a1a" xml:space="preserve">31: PolarConv</text>
<text transform="translate(130.90 470.40) scale(0.8576 1)" font-family="Liberation Sans" font-weight="normal" font-size="9.86" fill="#1a1a1a" xml:space="preserve">F=</text>
<text transform="translate(144.40 470.40) scale(0.9101 1)" font-family="Liberation Sans" font-weight="normal" font-size="9.86" fill="#1a1a1a" xml:space="preserve">500.0000</text>
<rect x="47" y="477" width="17" height="2" fill="#187018"/>
<text transform="translate(67.20 481.90) scale(0.9434 1)" font-family="Liberation Sans" font-weight="normal" font-size="9.86" fill="#1a1a1a" xml:space="preserve">32: PolarConv</text>
<text transform="translate(130.90 481.90) scale(0.8576 1)" font-family="Liberation Sans" font-weight="normal" font-size="9.86" fill="#1a1a1a" xml:space="preserve">F=</text>
<text transform="translate(151.10 481.90) scale(0.8962 1)" font-family="Liberation Sans" font-weight="normal" font-size="9.86" fill="#1a1a1a" xml:space="preserve">1.0000K</text>
<rect x="47" y="489" width="17" height="2" fill="#6a1010"/>
<text transform="translate(67.20 493.40) scale(0.9434 1)" font-family="Liberation Sans" font-weight="normal" font-size="9.86" fill="#1a1a1a" xml:space="preserve">34: PolarConv</text>
<text transform="translate(130.90 493.40) scale(0.8576 1)" font-family="Liberation Sans" font-weight="normal" font-size="9.86" fill="#1a1a1a" xml:space="preserve">F=</text>
<text transform="translate(150.20 493.40) scale(0.9207 1)" font-family="Liberation Sans" font-weight="normal" font-size="9.86" fill="#1a1a1a" xml:space="preserve">4.0000K</text>
<rect x="200" y="465" width="17" height="2" fill="#10106a"/>
<text transform="translate(220.50 470.40) scale(0.9434 1)" font-family="Liberation Sans" font-weight="normal" font-size="9.86" fill="#1a1a1a" xml:space="preserve">35: PolarConv</text>
<text transform="translate(284.20 470.40) scale(0.8576 1)" font-family="Liberation Sans" font-weight="normal" font-size="9.86" fill="#1a1a1a" xml:space="preserve">F=</text>
<text transform="translate(303.30 470.40) scale(0.9126 1)" font-family="Liberation Sans" font-weight="normal" font-size="9.86" fill="#1a1a1a" xml:space="preserve">8.0000K</text>
</svg></body></html>
